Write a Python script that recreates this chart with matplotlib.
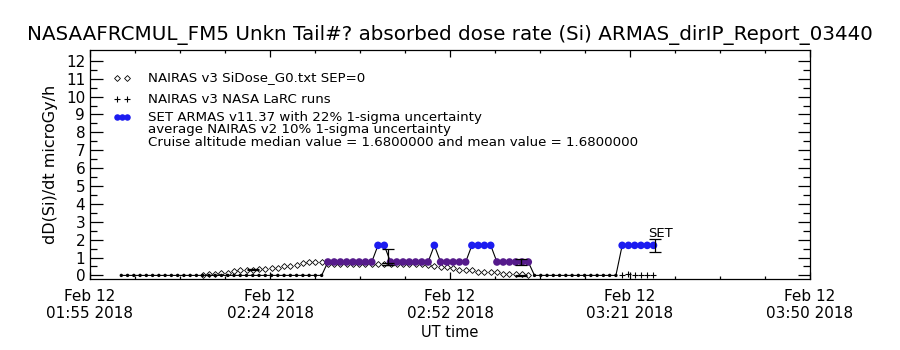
import numpy as np
import pandas as pd
import matplotlib
matplotlib.use("Agg")
import matplotlib.pyplot as plt

# --- data ---
t_start = "2018-02-12 01:55"
t_end = "2018-02-12 03:50"
xtick_labels = ["Feb 12\n01:55 2018", "Feb 12\n02:24 2018", "Feb 12\n02:52 2018",
                "Feb 12\n03:21 2018", "Feb 12\n03:50 2018"]

# SET ARMAS dose rate, one value per minute starting 02:00
set_first = "2018-02-12 02:00"
set_values = [0, 0, 0, 0, 0, 0, 0, 0, 0, 0, 0, 0, 0, 0, 0, 0, 0, 0, 0, 0, 0, 0, 0, 0, 0, 0, 0, 0, 0, 0, 0, 0, 0,
              0.75, 0.75, 0.75, 0.75, 0.75, 0.75, 0.75, 0.75,
              1.68, 1.68,
              0.75, 0.75, 0.75, 0.75, 0.75, 0.75, 0.75,
              1.68,
              0.75, 0.75, 0.75, 0.75, 0.75,
              1.68, 1.68, 1.68, 1.68,
              0.75, 0.75, 0.75, 0.75, 0.75, 0.75,
              0, 0, 0, 0, 0, 0, 0, 0, 0, 0, 0, 0, 0, 0,
              1.68, 1.68, 1.68, 1.68, 1.68, 1.68]

# NAIRAS v3 SiDose_G0, one value per minute starting 02:13
nairas_first = "2018-02-12 02:13"
nairas_values = [0.03, 0.08, 0.10, 0.12, 0.15, 0.25, 0.28, 0.30, 0.33, 0.35, 0.38, 0.40, 0.42, 0.50,
                 0.55, 0.58, 0.72, 0.73, 0.75, 0.75,
                 0.62, 0.62, 0.61, 0.62, 0.62, 0.61, 0.62, 0.62, 0.62, 0.61, 0.62, 0.62, 0.62,
                 0.61, 0.62, 0.62, 0.60,
                 0.50, 0.45, 0.45, 0.42, 0.30, 0.30, 0.28, 0.20, 0.20, 0.18, 0.17, 0.10, 0.10,
                 0.08, 0.06, 0.05]

# NAIRAS v3 NASA LaRC runs
larc_times = ["03:20:00", "03:21:00", "03:22:00", "03:23:00", "03:24:00", "03:25:00"]
larc_values = [0.02, 0.06, 0.02, 0.02, 0.02, 0.02]

# uncertainty bars
err_times = ["02:21:00", "02:42:36", "02:42:36", "03:03:48", "03:03:48", "03:25:18"]
err_center = [0.33, 1.03, 0.62, 0.73, 0.0, 1.68]
err_half = [0.03, 0.47, 0.06, 0.17, 0.01, 0.37]

purple = "#551a8b"
blue = "#1c1cf0"

plt.rcParams["font.family"] = "DejaVu Sans"

set_t = pd.date_range(set_first, periods=len(set_values), freq="min")
nairas_t = pd.date_range(nairas_first, periods=len(nairas_values), freq="min")
larc_t = pd.to_datetime(["2018-02-12 " + s for s in larc_times])
err_t = pd.to_datetime(["2018-02-12 " + s for s in err_times])
set_v = np.array(set_values)

fig = plt.figure(figsize=(9, 3.5), dpi=100)
ax = fig.add_axes([0.1, 0.2029, 0.8, 0.654])

ax.plot(nairas_t, nairas_values, ls="none", marker="D", ms=3, mfc="white", mec="black", mew=0.6)
ax.plot(larc_t, larc_values, ls="none", marker="+", ms=5, color="black", mew=0.8)
ax.plot(set_t, set_v, color="black", lw=0.8)

cols = np.where(set_v > 1.2, blue, np.where(set_v > 0.3, purple, "black"))
sizes = np.where(set_v > 0.3, 30, 6)
ax.scatter(set_t, set_v, s=sizes, c=cols, zorder=3, linewidths=0)

ax.errorbar(err_t, err_center, yerr=err_half, fmt="none", ecolor="black", elinewidth=0.9,
            capsize=4, capthick=0.9, zorder=4)
ax.text(pd.Timestamp("2018-02-12 03:24:10"), 2.0, "SET", fontsize=9.5, va="bottom", ha="left")

ax.plot([0.037, 0.051], [0.878, 0.878], transform=ax.transAxes, ls="none", marker="D", ms=3,
        mfc="white", mec="black", mew=0.6)
ax.plot([0.037, 0.051], [0.786, 0.786], transform=ax.transAxes, ls="none", marker="+", ms=5,
        color="black", mew=0.8)
ax.scatter([0.037, 0.044, 0.051], [0.707] * 3, transform=ax.transAxes, s=22, c=blue, linewidths=0)
leg_fs = 9.6
ax.text(0.081, 0.878, "NAIRAS v3 SiDose_G0.txt SEP=0", transform=ax.transAxes, fontsize=leg_fs, va="center")
ax.text(0.081, 0.786, "NAIRAS v3 NASA LaRC runs", transform=ax.transAxes, fontsize=leg_fs, va="center")
ax.text(0.081, 0.707, "SET ARMAS v11.37 with 22% 1-sigma uncertainty", transform=ax.transAxes,
        fontsize=leg_fs, va="center")
ax.text(0.081, 0.655, "average NAIRAS v2 10% 1-sigma uncertainty", transform=ax.transAxes,
        fontsize=leg_fs, va="center")
ax.text(0.081, 0.596, "Cruise altitude median value = 1.6800000 and mean value = 1.6800000",
        transform=ax.transAxes, fontsize=leg_fs, va="center")

x0 = pd.Timestamp(t_start)
x1 = pd.Timestamp(t_end)
ax.set_xlim(x0, x1)
ax.set_ylim(-0.2, 12.6)
major = pd.date_range(x0, x1, periods=5)
minor = pd.date_range(x0, x1, periods=17)
ax.set_xticks(major)
ax.set_xticklabels(xtick_labels, fontsize=11)
ax.set_xticks(minor, minor=True)
ax.set_yticks(range(0, 13))
ax.set_yticks(np.arange(0.5, 12.5, 1.0), minor=True)
ax.set_yticklabels([str(i) for i in range(0, 13)], fontsize=11)
ax.tick_params(axis="both", which="both", direction="in", top=True, right=True, width=0.9)
ax.tick_params(axis="y", which="major", length=9)
ax.tick_params(axis="y", which="minor", length=5)
ax.tick_params(axis="x", which="major", length=5, pad=7)
ax.tick_params(axis="x", which="minor", length=2.5)
for s in ax.spines.values():
    s.set_linewidth(0.9)

ax.set_xlabel("UT time", fontsize=10.5, labelpad=3)
ax.set_ylabel("dD(Si)/dt microGy/h", fontsize=11.5, labelpad=6)
ax.set_title("NASAAFRCMUL_FM5 Unkn Tail#? absorbed dose rate (Si) ARMAS_dirIP_Report_03440",
             fontsize=14.3, pad=7)

fig.savefig("out.png", dpi=100)
